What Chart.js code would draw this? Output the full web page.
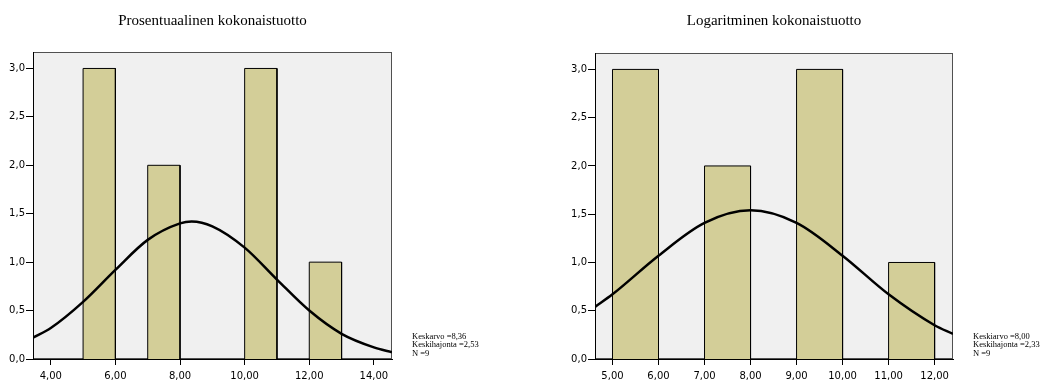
<!DOCTYPE html>
<html>
<head>
<meta charset="utf-8">
<script src="https://cdn.jsdelivr.net/npm/chart.js@4/dist/chart.umd.min.js"></script>
<style>
  html, body { margin: 0; padding: 0; background: #fff; }
  #wrap { position: relative; width: 1058px; height: 380px; }
  canvas { position: absolute; top: 0; }
  #left-chart { left: 0; }
  #right-chart { left: 529px; }
</style>
</head>
<body>
<div id="wrap">
  <canvas id="left-chart" width="529" height="380"></canvas>
  <canvas id="right-chart" width="529" height="380"></canvas>
</div>
<script>
const leftTitle = "Prosentuaalinen kokonaistuotto";
const rightTitle = "Logaritminen kokonaistuotto";

const binWidth = 1;
const leftBinStarts = [5, 7, 10, 12];
const leftCounts = [3, 2, 3, 1];
const rightBinStarts = [5, 7, 9, 11];
const rightCounts = [3, 2, 3, 1];

// normal curve
const leftCurveX = [3.45, 4, 5, 6, 7, 8, 8.36, 9, 10, 11, 12, 13, 14, 14.56];
const leftCurveY = [0.22, 0.32, 0.59, 0.92, 1.23, 1.4, 1.42, 1.37, 1.15, 0.82, 0.5, 0.26, 0.12, 0.07];
const rightCurveX = [4.62, 5, 6, 7, 8, 9, 10, 11, 12, 12.4];
const rightCurveY = [0.54, 0.67, 1.07, 1.41, 1.54, 1.41, 1.07, 0.67, 0.35, 0.26];

const leftXTicks = [4, 6, 8, 10, 12, 14];
const rightXTicks = [5, 6, 7, 8, 9, 10, 11, 12];
const yTicks = [0, 0.5, 1, 1.5, 2, 2.5, 3];

const leftStats = ["Keskarvo =8,36", "Keskihajonta =2,53", "N =9"];
const rightStats = ["Keskiarvo =8,00", "Keskihajonta =2,33", "N =9"];

Chart.defaults.font.family = "'DejaVu Sans', sans-serif";
Chart.defaults.font.size = 10;
Chart.defaults.color = "#000";

const fmtX = (v) => v.toFixed(2).replace(".", ",");
const fmtY = (v) => v.toFixed(1).replace(".", ",");

const spssFrame = {
  id: "spssFrame",
  beforeDraw: (chart, args, opts) => {
    const { left, top, right, bottom } = chart.chartArea;
    const ctx = chart.ctx;
    ctx.save();
    ctx.fillStyle = "#f0f0f0";
    ctx.fillRect(left, top, right - left, bottom - top);
    ctx.strokeStyle = "#505050";
    ctx.lineWidth = 1;
    ctx.strokeRect(left + 0.5, top + 0.5, right - left - 1, bottom - top - 1);
    ctx.restore();
  },
  afterDraw: (chart, args, opts) => {
    const { left, right } = chart.chartArea;
    const ctx = chart.ctx;
    ctx.save();
    ctx.fillStyle = "#000";
    ctx.textBaseline = "alphabetic";
    ctx.textAlign = "center";
    ctx.font = "15px 'Liberation Serif'";
    ctx.fillText(opts.title, (left + right) / 2, 25);
    ctx.textAlign = "left";
    ctx.font = "8.5px 'Liberation Serif'";
    opts.stats.forEach((line, i) => {
      ctx.fillText(line, right + 20, 338.5 + i * 8.5);
    });
    ctx.restore();
  },
};

const histogramDatasets = (starts, counts) =>
  starts.map((s, i) => ({
    data: [
      { x: s, y: 0 },
      { x: s, y: counts[i] },
      { x: s + binWidth, y: counts[i] },
      { x: s + binWidth, y: 0 },
    ],
    borderColor: "#000",
    borderWidth: 1,
    backgroundColor: "#d3ce98",
    fill: "origin",
    tension: 0,
    pointRadius: 0,
    order: 1,
  }));

const curveDataset = (xs, ys) => ({
  data: xs.map((x, i) => ({ x: x, y: ys[i] })),
  borderColor: "#000",
  borderWidth: 2.5,
  fill: false,
  pointRadius: 0,
  cubicInterpolationMode: "monotone",
  order: 0,
});

const makeOptions = (xMin, xMax, xTicks, padding, title, stats) => ({
  responsive: false,
  animation: false,
  events: [],
  layout: { padding: padding },
  plugins: {
    legend: { display: false },
    tooltip: { enabled: false },
    spssFrame: { title: title, stats: stats },
  },
  scales: {
    x: {
      type: "linear",
      min: xMin,
      max: xMax,
      afterBuildTicks: (scale) => {
        scale.ticks = xTicks.map((v) => ({ value: v }));
      },
      afterFit: (scale) => {
        scale.height = 21;
      },
      grid: {
        drawOnChartArea: false,
        drawTicks: true,
        tickLength: 6,
        tickColor: "#000",
      },
      border: { display: true, color: "#000", width: 1 },
      ticks: {
        autoSkip: false,
        maxRotation: 0,
        minRotation: 0,
        padding: 5,
        callback: (value) => fmtX(value),
      },
    },
    y: {
      type: "linear",
      min: 0,
      max: 3.17,
      afterBuildTicks: (scale) => {
        scale.ticks = yTicks.map((v) => ({ value: v }));
      },
      afterFit: (scale) => {
        scale.width = 33;
      },
      grid: {
        drawOnChartArea: false,
        drawTicks: true,
        tickLength: 7,
        tickColor: "#000",
      },
      border: { display: true, color: "#000", width: 1 },
      ticks: {
        padding: 1,
        callback: (value) => fmtY(value),
      },
    },
  },
});

const leftChart = new Chart(document.getElementById("left-chart"), {
  type: "line",
  data: {
    datasets: [
      curveDataset(leftCurveX, leftCurveY),
      ...histogramDatasets(leftBinStarts, leftCounts),
    ],
  },
  options: makeOptions(
    3.45,
    14.56,
    leftXTicks,
    { left: 0, right: 137, top: 52, bottom: 0 },
    leftTitle,
    leftStats
  ),
  plugins: [spssFrame],
});

const rightChart = new Chart(document.getElementById("right-chart"), {
  type: "line",
  data: {
    datasets: [
      curveDataset(rightCurveX, rightCurveY),
      ...histogramDatasets(rightBinStarts, rightCounts),
    ],
  },
  options: makeOptions(
    4.62,
    12.4,
    rightXTicks,
    { left: 33, right: 105, top: 53, bottom: 0 },
    rightTitle,
    rightStats
  ),
  plugins: [spssFrame],
});
</script>
</body>
</html>
